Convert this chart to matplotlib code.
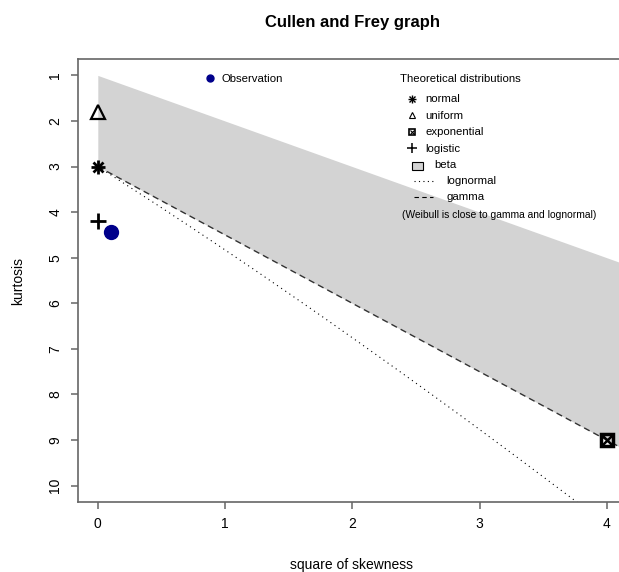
import matplotlib.pyplot as plt
from matplotlib.lines import Line2D
from matplotlib.patches import Rectangle

plt.rcParams['font.family'] = ['Liberation Sans', 'DejaVu Sans']

W, H = 619, 572

# observed sample
obs_skew2 = [0.103]
obs_kurt = [4.44]

# theoretical distributions (square of skewness, kurtosis)
normal_pt = (0.0, 3.0)
uniform_pt = (0.0, 1.8)
exponential_pt = (4.0, 9.0)
logistic_pt = (0.0, 4.2)

# beta region
beta_skew2 = [0.0, 4.5]
beta_lower = [1.0, 5.5]
beta_upper = [3.0, 9.75]

# gamma line
gamma_skew2 = [0.0, 4.5]
gamma_kurt = [3.0, 9.75]

# lognormal curve
lnorm_skew2 = [0.0, 0.091, 0.182, 0.465, 0.709, 0.961, 1.221, 1.488, 1.764,
               2.048, 2.340, 2.641, 2.950, 3.267, 3.793]
lnorm_kurt = [3.0, 3.162, 3.326, 3.838, 4.287, 4.756, 5.246, 5.758, 6.292,
              6.850, 7.430, 8.035, 8.665, 9.320, 10.42]

xticks = [0, 1, 2, 3, 4]
yticks = [1, 2, 3, 4, 5, 6, 7, 8, 9, 10]


def fx(x):
    return x / W


def fy(y):
    return 1 - y / H


fig = plt.figure(figsize=(W / 100, H / 100), dpi=100)
ax = fig.add_axes([fx(77.7), fy(502), (621 - 77.7) / W, (502 - 59) / H])

ax.fill_between(beta_skew2, beta_lower, beta_upper, color='#d3d3d3', lw=0)
ax.plot(lnorm_skew2, lnorm_kurt, color='k', lw=0.8, ls=(0, (1, 3.5)))
ax.plot(gamma_skew2, gamma_kurt, color='#333333', lw=1.0, ls=(0, (4.5, 3)))

ax.plot(*normal_pt, marker='+', ms=10, mew=2, color='k')
ax.plot(*normal_pt, marker='x', ms=7.5, mew=2, color='k')
ax.plot(*uniform_pt, marker='^', ms=10, mew=1.6, mfc='none', mec='k')
ax.plot(*logistic_pt, marker='+', ms=11, mew=2, color='k')
ax.plot(*exponential_pt, marker='s', ms=9, mew=2.5, mfc='none', mec='k')
ax.plot(*exponential_pt, marker='x', ms=7, mew=1.8, color='k')
ax.plot(obs_skew2, obs_kurt, 'o', ms=10, color='#00008b')

ax.set_xlim(-0.158, 4.112)
ax.set_ylim(10.36, 0.64)
ax.set_xticks(xticks)
ax.set_yticks(yticks)
for s in ax.spines.values():
    s.set_color('#666666')
    s.set_linewidth(1.2)
ax.spines['right'].set_visible(False)
ax.tick_params(axis='both', direction='out', length=5, width=1.1,
               color='#666666', labelsize=10)
ax.tick_params(axis='x', pad=6)
ax.tick_params(axis='y', pad=6, labelrotation=90)
for lab in ax.get_yticklabels():
    lab.set_va('center')

fig.text(fx(352), fy(22), 'Cullen and Frey graph', ha='center', va='center',
         fontsize=12, weight='bold')
fig.text(fx(351), fy(565), 'square of skewness', ha='center', va='center',
         fontsize=10)
fig.text(fx(18), fy(281), 'kurtosis', ha='center', va='center',
         rotation=90, fontsize=10)


def key_marker(x, y, **kw):
    fig.add_artist(Line2D([fx(x)], [fy(y)], transform=fig.transFigure, **kw))


def key_text(x, y, s, size=8.2):
    fig.text(fx(x), fy(y), s, ha='left', va='center', fontsize=size)


# observation legend
key_marker(209.5, 78.3, marker='o', ms=5, color='#00008b', ls='none')
key_text(221.7, 78.5, 'Observation')

# theoretical legend
key_text(400, 79, 'Theoretical distributions')
key_marker(412.3, 99.3, marker='+', ms=5.5, mew=1, color='k', ls='none')
key_marker(412.3, 99.3, marker='x', ms=4, mew=1, color='k', ls='none')
key_text(425.7, 99.5, 'normal')
key_marker(412.3, 115.5, marker='^', ms=5, mew=0.8, mfc='none', mec='k',
           ls='none')
key_text(425.7, 116, 'uniform')
key_marker(412.3, 131.7, marker='s', ms=4, mew=1.2, mfc='none', mec='k',
           ls='none')
key_marker(412.3, 131.7, marker='x', ms=3, mew=0.8, color='k', ls='none')
key_text(425.7, 132, 'exponential')
key_marker(412.3, 148.3, marker='+', ms=7, mew=1.1, color='k', ls='none')
key_text(425.7, 148.5, 'logistic')
fig.add_artist(Rectangle((fx(412), fy(170)), 11 / W, 8 / H,
                         transform=fig.transFigure, facecolor='#d3d3d3',
                         edgecolor='k', lw=0.8))
key_text(434.3, 165.5, 'beta')
fig.add_artist(Line2D([fx(414), fx(433)], [fy(180.7), fy(180.7)],
                      transform=fig.transFigure, color='k', lw=0.8,
                      ls=(0, (1, 3))))
key_text(446.7, 181, 'lognormal')
fig.add_artist(Line2D([fx(414), fx(433)], [fy(196.7), fy(196.7)],
                      transform=fig.transFigure, color='k', lw=0.8,
                      ls=(0, (4, 3))))
key_text(446.7, 197, 'gamma')
key_text(402, 214.5, '(Weibull is close to gamma and lognormal)', size=7.4)

fig.savefig('out.png', dpi=100)
